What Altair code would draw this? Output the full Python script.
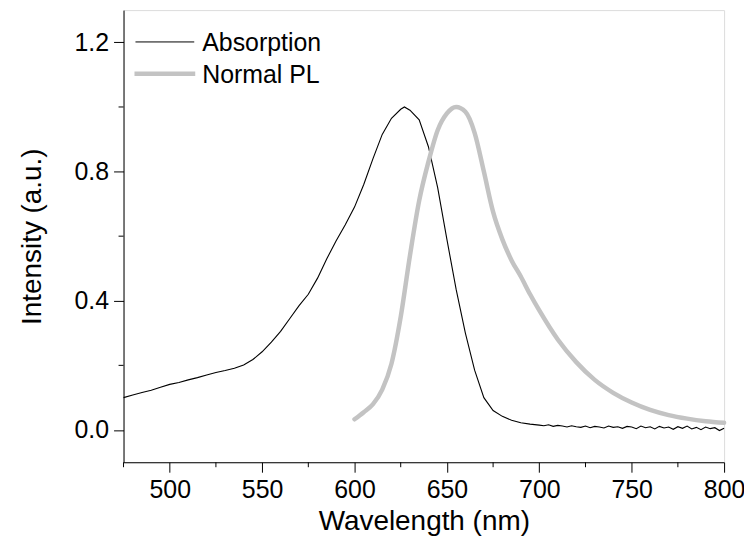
import altair as alt
import pandas as pd

# Absorption spectrum
abs_wl = [475, 480, 485, 490, 495, 500, 505, 510, 515, 520, 525, 530, 535, 540, 545,
          550, 555, 560, 565, 570, 575, 580, 585, 590, 595, 600, 605, 610, 615, 620,
          625, 627, 630, 635, 640, 645, 650, 655, 660, 665, 670, 675, 680, 685, 690, 695]
abs_val = [0.100, 0.108, 0.116, 0.123, 0.132, 0.141, 0.147, 0.155, 0.162, 0.170, 0.178, 0.184,
           0.191, 0.201, 0.218, 0.242, 0.272, 0.305, 0.345, 0.385, 0.420, 0.470, 0.530, 0.585,
           0.635, 0.690, 0.760, 0.840, 0.915, 0.965, 0.993, 1.000, 0.990, 0.960, 0.877, 0.750,
           0.590, 0.435, 0.300, 0.185, 0.100, 0.060, 0.042, 0.030, 0.022, 0.018]
tail_wl = [700 + 2.5 * i for i in range(41)]
tail_val = [0.015, 0.013, 0.016, 0.011, 0.014, 0.012, 0.009, 0.013, 0.010, 0.008, 0.012,
            0.007, 0.011, 0.009, 0.006, 0.012, 0.008, 0.010, 0.005, 0.011, 0.009, 0.004,
            0.012, 0.007, 0.010, 0.003, 0.011, 0.006, 0.009, 0.002, 0.010, 0.005, 0.012,
            0.003, 0.008, 0.001, 0.009, 0.004, 0.007, -0.002, 0.005]

# Normal PL spectrum
pl_wl = [600, 605, 610, 615, 620, 625, 630, 635, 640, 645, 650, 655, 660, 665, 670, 675,
         680, 685, 690, 695, 700, 710, 720, 730, 740, 750, 760, 770, 780, 790, 800]
pl_val = [0.033, 0.055, 0.080, 0.125, 0.205, 0.350, 0.540, 0.710, 0.830, 0.928, 0.980, 1.000,
          0.985, 0.920, 0.800, 0.675, 0.590, 0.525, 0.475, 0.420, 0.370, 0.280, 0.210, 0.155,
          0.115, 0.085, 0.062, 0.046, 0.035, 0.027, 0.022]

x_major = [500, 550, 600, 650, 700, 750, 800]
x_minor = [475, 525, 575, 625, 675, 725, 775]
y_major = [0.0, 0.4, 0.8, 1.2]
y_minor = [0.2, 0.6, 1.0]
legend_labels = ["Absorption", "Normal PL"]

FONT = "Liberation Sans"
W, H = 603, 454
LBL = 25
TTL = 28

abs_df = pd.DataFrame({"wl": abs_wl + tail_wl, "val": abs_val + tail_val})
pl_df = pd.DataFrame({"wl": pl_wl, "val": pl_val})

xs = alt.Scale(domain=[475, 800], nice=False, zero=False)
ys = alt.Scale(domain=[-0.1, 1.3], nice=False, zero=False)

xaxis = alt.Axis(values=x_major, title="Wavelength (nm)", labelFont=FONT, labelFontSize=LBL,
                 titleFont=FONT, titleFontSize=TTL, titleFontWeight="normal", tickSize=10,
                 labelPadding=5, titlePadding=6, grid=False, domainColor="black",
                 tickColor="black", labelColor="black", titleColor="black", labelFlush=False,
                 labelOverlap=False, format="d")
yaxis = alt.Axis(values=y_major, title="Intensity (a.u.)", labelFont=FONT, labelFontSize=LBL,
                 titleFont=FONT, titleFontSize=TTL, titleFontWeight="normal", tickSize=10,
                 labelPadding=5, titlePadding=28, grid=False, domainColor="black",
                 tickColor="black", labelColor="black", titleColor="black", format=".1f")

absorption = alt.Chart(abs_df).mark_line(color="black", strokeWidth=1.1).encode(
    x=alt.X("wl:Q", scale=xs, axis=xaxis),
    y=alt.Y("val:Q", scale=ys, axis=yaxis),
)
pl = alt.Chart(pl_df).mark_line(color="#c3c3c3", strokeWidth=4.5, strokeCap="round",
                                 interpolate="monotone").encode(
    x=alt.X("wl:Q", scale=xs),
    y=alt.Y("val:Q", scale=ys),
)

xminor = alt.Chart(pd.DataFrame({"t": x_minor})).mark_rule(color="black", strokeWidth=1).encode(
    x=alt.X("t:Q", scale=xs), y=alt.value(H), y2=alt.value(H + 5))
yminor = alt.Chart(pd.DataFrame({"t": y_minor})).mark_rule(color="black", strokeWidth=1).encode(
    y=alt.Y("t:Q", scale=ys), x=alt.value(0), x2=alt.value(-5))

leg_df = pd.DataFrame({"label": legend_labels})
leg_abs = alt.Chart(leg_df.iloc[[0]]).mark_rule(color="black", strokeWidth=1).encode(
    x=alt.value(12), x2=alt.value(71), y=alt.value(32))
leg_pl = alt.Chart(leg_df.iloc[[1]]).mark_rule(color="#c3c3c3", strokeWidth=4.5).encode(
    x=alt.value(11), x2=alt.value(72), y=alt.value(64))
leg_t1 = alt.Chart(leg_df.iloc[[0]]).mark_text(align="left", baseline="middle", font=FONT,
                                               fontSize=LBL, color="black").encode(
    x=alt.value(79), y=alt.value(33), text="label:N")
leg_t2 = alt.Chart(leg_df.iloc[[1]]).mark_text(align="left", baseline="middle", font=FONT,
                                               fontSize=LBL, color="black").encode(
    x=alt.value(79), y=alt.value(65), text="label:N")

chart = alt.layer(absorption, pl, xminor, yminor, leg_abs, leg_pl, leg_t1, leg_t2).properties(
    width=W, height=H,
    autosize=alt.AutoSizeParams(type="none"),
    padding={"left": 116, "top": 1, "right": 20, "bottom": 80},
).configure_view(stroke="black", strokeWidth=1).configure(background="white")

chart.save("out.html", embed_options={"renderer": "svg", "actions": False})
